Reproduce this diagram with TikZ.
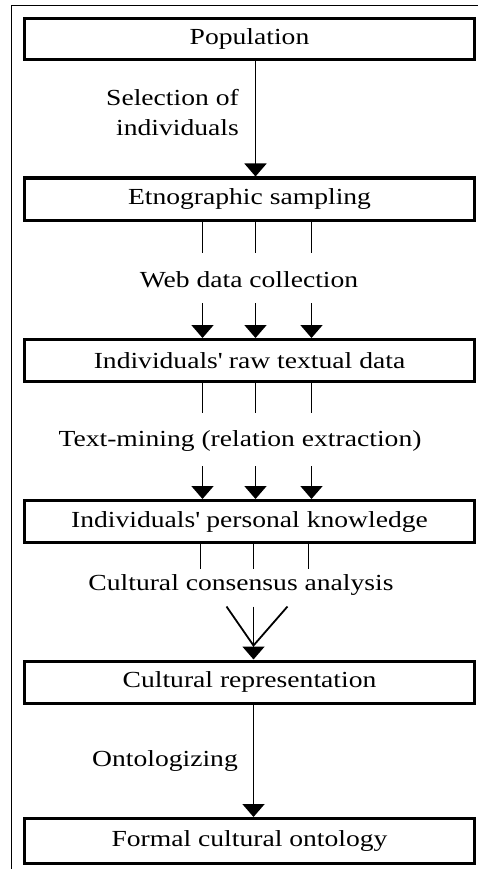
\documentclass[tikz,border=0pt]{standalone}
\usepackage{fontspec}
\setmainfont[FakeStretch=1.2]{Liberation Serif}
\usetikzlibrary{arrows.meta, calc}

\tikzset{
  stage/.style={draw, rectangle, line width=3pt, minimum width=450pt, minimum height=42pt, inner sep=0pt, font=\fontsize{23}{30}\selectfont},
  lbl/.style={inner sep=0pt, font=\fontsize{23}{30}\selectfont},
  flow/.style={line width=1.8pt},
  flowarrow/.style={flow, -{Triangle[width=22pt, length=13pt]}}
}

\begin{document}
\begin{tikzpicture}[x=1pt, y=-1pt]
  \useasboundingbox (0,0) rectangle (478,869);

  % Frame
  \draw[line width=1.2pt] (11.5,869) -- (11.5,5.5) -- (478,5.5);

  % Stages
  \node[stage, minimum height=41pt] (pop) at (249.5,39) {Population};
  \node[stage] (etno) at (249.5,199) {Etnographic sampling};
  \node[stage] (raw) at (249.5,360.5) {Individuals\textquotesingle{} raw textual data};
  \node[stage] (know) at (249.5,521.5) {Individuals\textquotesingle{} personal knowledge};
  \node[stage] (rep) at (249.5,682) {Cultural representation};
  \node[stage, minimum height=45pt] (formal) at (249.5,841) {Formal cultural ontology};

  % Labels
  \node[lbl, anchor=east, align=right] (select) at (239,112.5) {Selection of\\individuals};
  \node[lbl] (web) at (249,280) {Web data collection};
  \node[lbl] (mining) at (240,441) {Text-mining (relation extraction)};
  \node[lbl] (consensus) at (241,585) {Cultural consensus analysis};
  \node[lbl, anchor=east] (onto) at (238,761) {Ontologizing};

  % Connectors
  \draw[flowarrow] ([xshift=6]pop.south) -- ([xshift=6]etno.north);
  \foreach \d in {-47,6,62} {
    \draw[flow] ([xshift=\d]etno.south) -- ++(0,31);
    \draw[flowarrow] ([xshift=\d, yshift=35]raw.north) -- ([xshift=\d]raw.north);
    \draw[flow] ([xshift=\d]raw.south) -- ++(0,30);
    \draw[flowarrow] ([xshift=\d, yshift=33]know.north) -- ([xshift=\d]know.north);
  }
  \foreach \d in {-49,4,59}
    \draw[flow] ([xshift=\d]know.south) -- ++(0,25);

  % Consensus merge
  \coordinate (meet) at ([xshift=4, yshift=14]rep.north);
  \draw[flow] (meet) -- ++(-27,-39);
  \draw[flow] (meet) -- ++(34,-39);
  \draw[flowarrow] ([xshift=4, yshift=53]rep.north) -- ([xshift=4]rep.north);

  \draw[flowarrow] ([xshift=4]rep.south) -- ([xshift=4]formal.north);
\end{tikzpicture}
\end{document}
